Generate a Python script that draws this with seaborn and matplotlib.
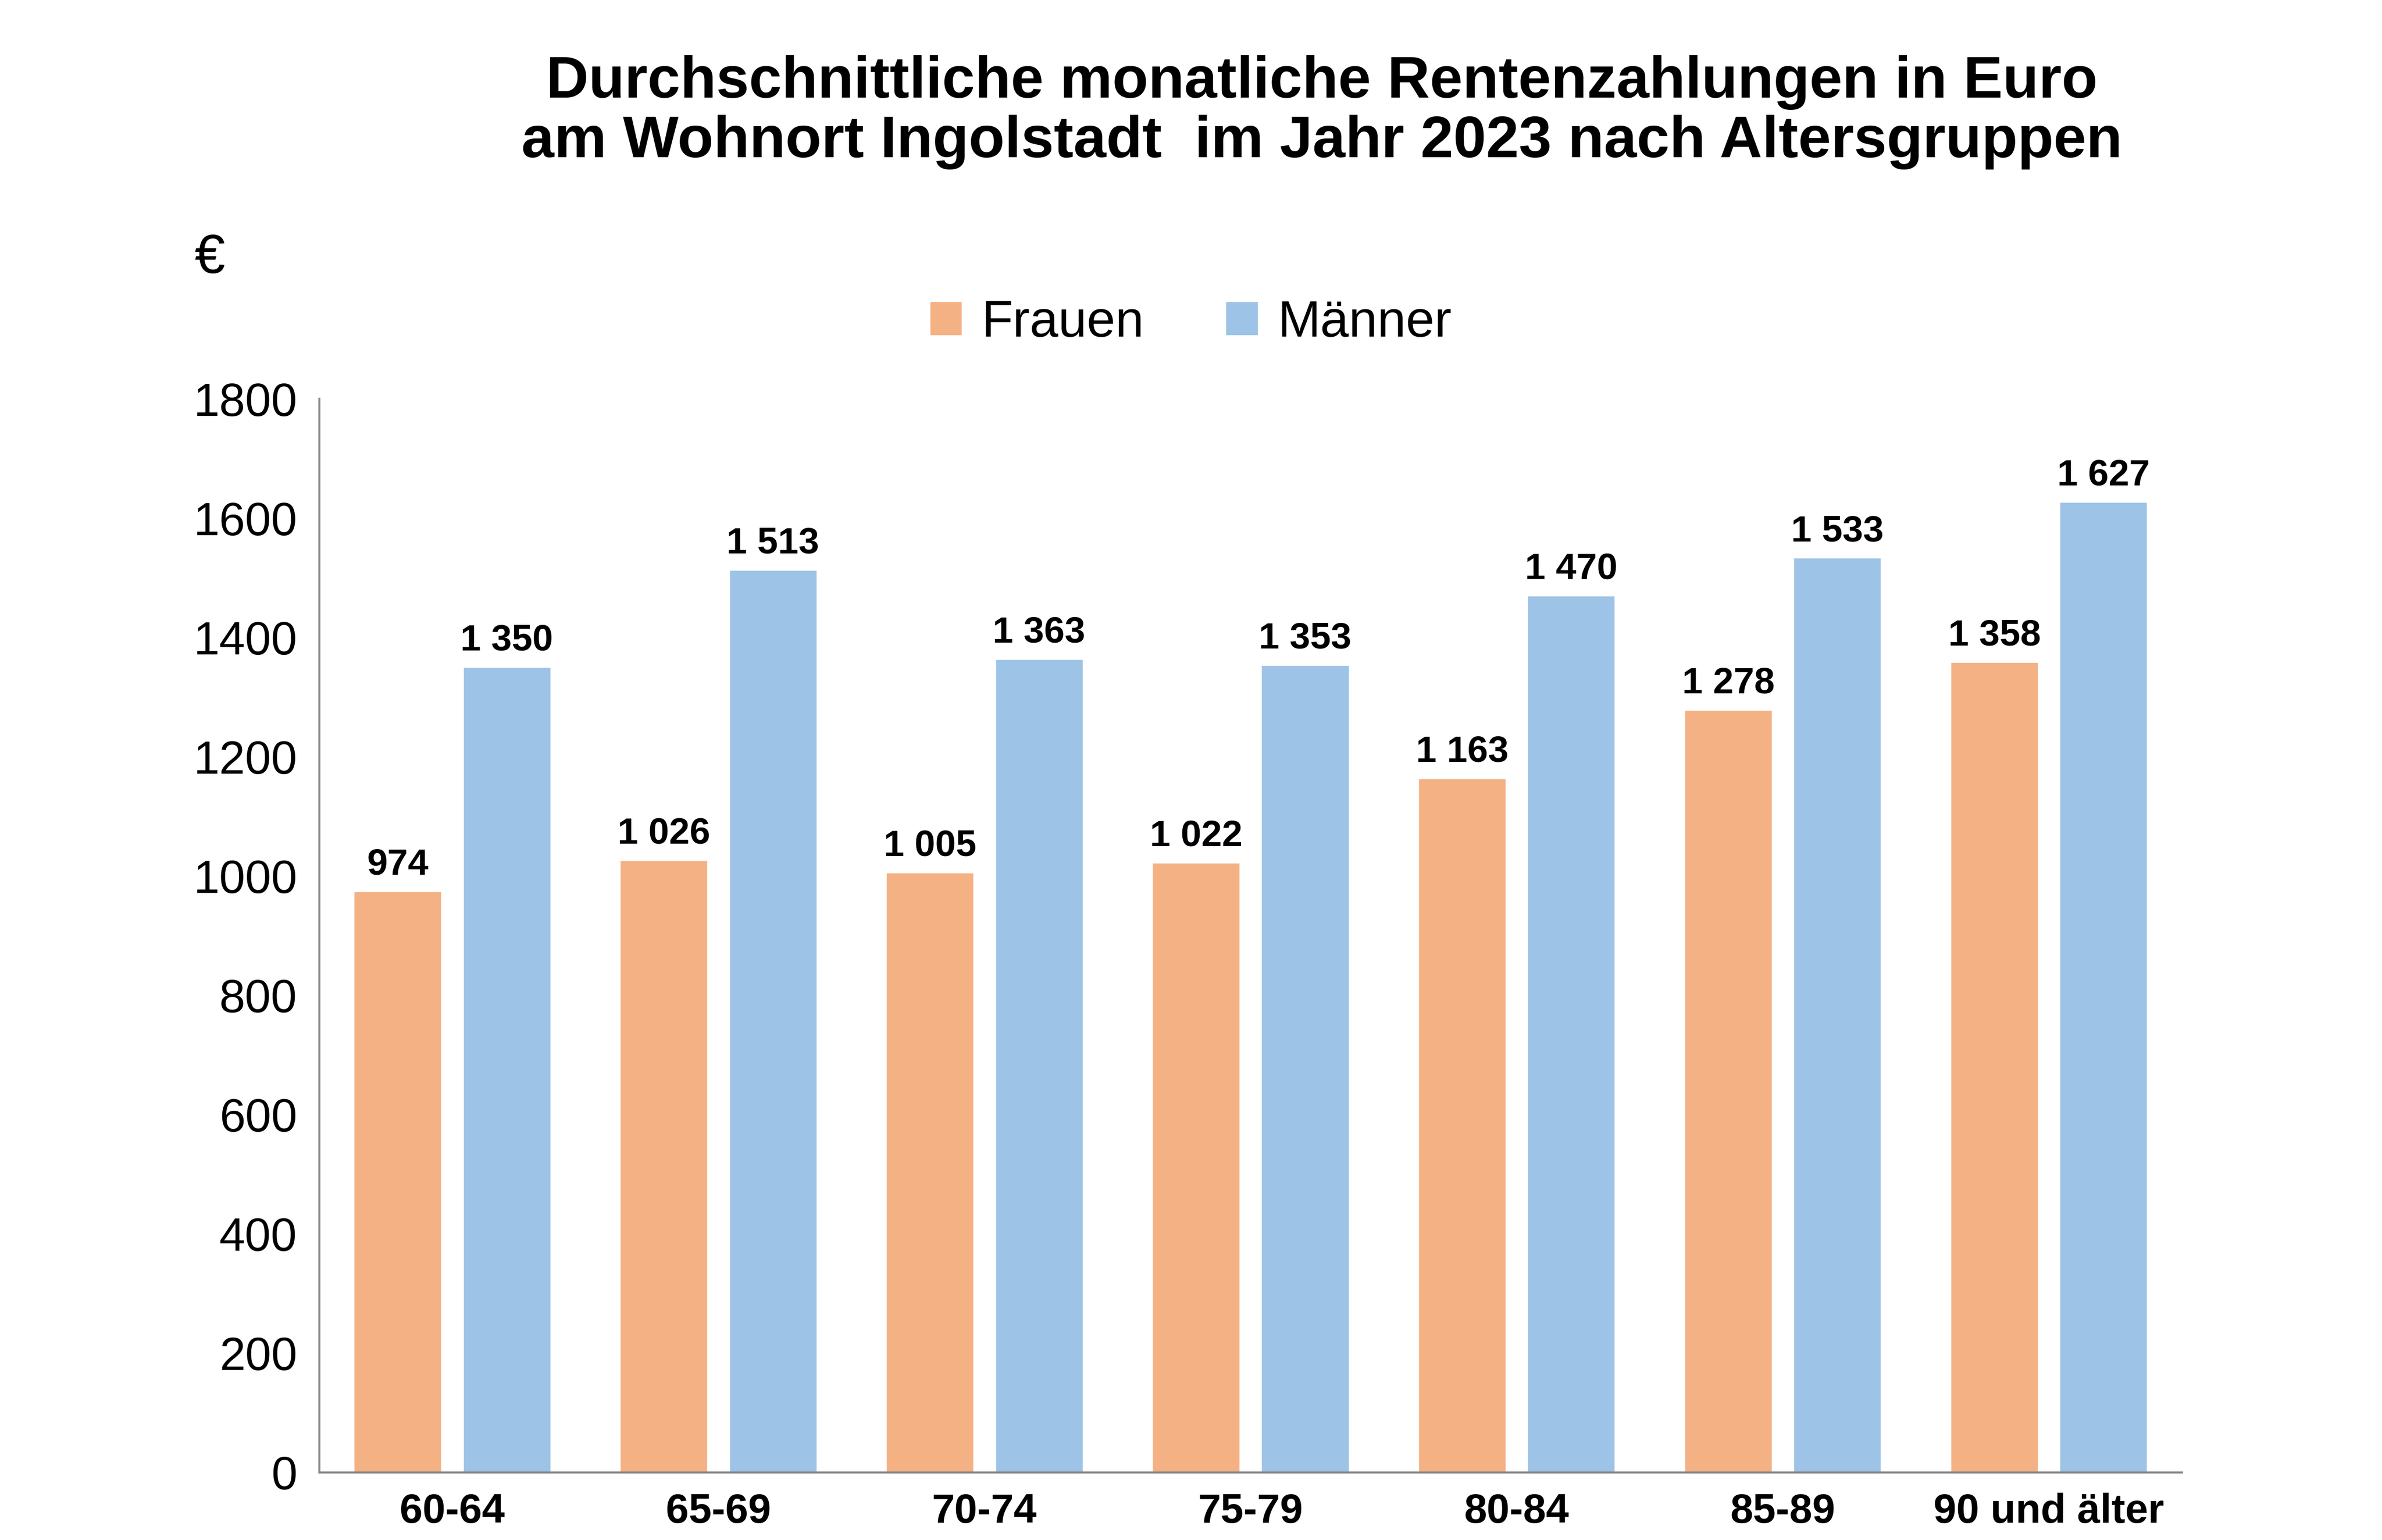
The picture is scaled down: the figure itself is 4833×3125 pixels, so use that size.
import matplotlib
matplotlib.use("Agg")
import matplotlib.pyplot as plt
import seaborn as sns
import pandas as pd

categories = ["60-64", "65-69", "70-74", "75-79", "80-84", "85-89", "90 und älter"]
frauen = [974, 1026, 1005, 1022, 1163, 1278, 1358]
maenner = [1350, 1513, 1363, 1353, 1470, 1533, 1627]
yticks = [0, 200, 400, 600, 800, 1000, 1200, 1400, 1600, 1800]

sns.set_style("white")
plt.rcParams['font.family'] = ['Liberation Sans', 'DejaVu Sans']
plt.rcParams['text.color'] = 'black'
plt.rcParams['xtick.labelcolor'] = 'black'
plt.rcParams['ytick.labelcolor'] = 'black'

df = pd.DataFrame({
    "Gruppe": categories * 2,
    "Wert": frauen + maenner,
    "Geschlecht": ["Frauen"] * 7 + ["Männer"] * 7,
})

fig = plt.figure(figsize=(48.33, 31.25), dpi=100)
ax = fig.add_axes([0.134, 0.044, 0.782, 0.697])
sns.barplot(data=df, x="Gruppe", y="Wert", hue="Geschlecht",
            palette={"Frauen": "#F4B183", "Männer": "#9DC3E6"}, saturation=1,
            width=0.82, gap=0.2, ax=ax, legend=False)

for cont in ax.containers:
    ax.bar_label(cont, labels=[f"{int(v):,}".replace(",", " ") for v in cont.datavalues],
                 padding=14, fontsize=54, fontweight="bold", color="black")

ax.set_ylim(0, 1800)
ax.set_xlim(-0.5, 6.5)
ax.set_yticks(yticks)
ax.tick_params(axis="y", labelsize=68, length=20, width=3, color="#888888", direction="out", pad=12)
ax.set_xticks([i - 0.5 for i in range(8)])
ax.set_xticklabels([])
ax.tick_params(axis="x", which="major", length=20, width=3, color="#888888", direction="out")
ax.set_xticks(range(7), minor=True)
ax.set_xticklabels(categories, minor=True, fontsize=60, fontweight="bold")
ax.tick_params(axis="x", which="minor", length=0, pad=30)
ax.set_xlabel("")
ax.set_ylabel("")
for s in ["top", "right"]:
    ax.spines[s].set_visible(False)
for s in ["left", "bottom"]:
    ax.spines[s].set_color("#888888")
    ax.spines[s].set_linewidth(3)

from matplotlib.patches import Patch
handles = [Patch(color="#F4B183", label="Frauen"), Patch(color="#9DC3E6", label="Männer")]
fig.legend(handles=handles, loc="center", bbox_to_anchor=(0.5, 0.79), ncol=2,
           frameon=False, fontsize=75, handlelength=0.6, handleheight=0.6,
           columnspacing=1.6, handletextpad=0.4)

fig.text(0.088, 0.832, "€", fontsize=80, ha="center", va="center")
fig.text(0.555, 0.927, "Durchschnittliche monatliche Rentenzahlungen in Euro\n"
         "am Wohnort Ingolstadt  im Jahr 2023 nach Altersgruppen",
         fontsize=86, fontweight="bold", ha="center", va="center", linespacing=1.12)

fig.savefig("out.png", dpi=100)
